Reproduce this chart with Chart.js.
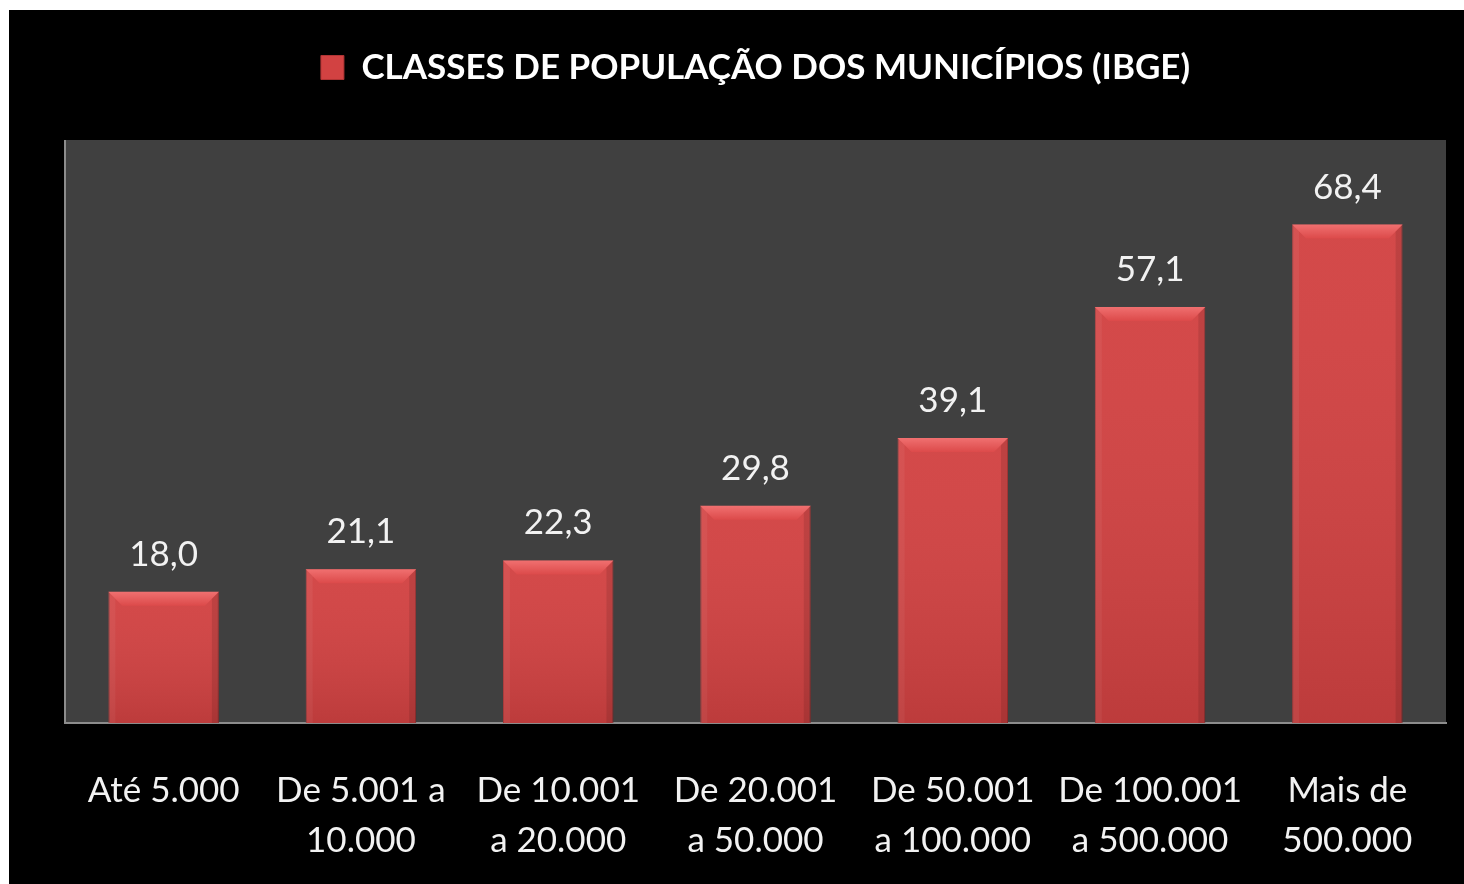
<!DOCTYPE html>
<html>
<head>
<meta charset="utf-8">
<script src="https://cdn.jsdelivr.net/npm/chart.js@4.4.1/dist/chart.umd.min.js"></script>
<style>
  body { margin: 0; background: #fff; }
  #wrap { position: absolute; left: 9px; top: 10px; width: 1455px; height: 874px; background: #000; }
</style>
</head>
<body>
<div id="wrap"><canvas id="chart"></canvas></div>
<script>
const seriesLabel = 'CLASSES DE POPULAÇÃO DOS MUNICÍPIOS (IBGE)';
const categories = [
  ['Até 5.000'],
  ['De 5.001 a', '10.000'],
  ['De 10.001', 'a 20.000'],
  ['De 20.001', 'a 50.000'],
  ['De 50.001', 'a 100.000'],
  ['De 100.001', 'a 500.000'],
  ['Mais de', '500.000']
];
const values = [18.0, 21.1, 22.3, 29.8, 39.1, 57.1, 68.4];
const yMin = 0;
const yMax = 80;

const FONT = 'Lato, "Open Sans", sans-serif';

// gray plot area + left axis line
const plotBackground = {
  id: 'plotBackground',
  beforeDraw(chart) {
    const { ctx, chartArea: a } = chart;
    ctx.save();
    ctx.fillStyle = '#404040';
    ctx.fillRect(a.left, a.top, a.right - a.left, a.bottom - a.top);
    ctx.strokeStyle = '#8c8c8c';
    ctx.lineWidth = 2;
    ctx.beginPath();
    ctx.moveTo(a.left, a.top);
    ctx.lineTo(a.left, a.bottom);
    ctx.stroke();
    ctx.restore();
  }
};

// bevel on bars + value labels
const barDecor = {
  id: 'barDecor',
  afterDatasetsDraw(chart) {
    const { ctx } = chart;
    const meta = chart.getDatasetMeta(0);
    ctx.save();
    meta.data.forEach((bar, i) => {
      const { x, y, width, base } = bar.getProps(['x', 'y', 'width', 'base'], true);
      const l = x - width / 2, r = x + width / 2, b = 14;
      // vertical shade
      const v = ctx.createLinearGradient(0, y, 0, base);
      v.addColorStop(0, 'rgba(255,255,255,0.04)');
      v.addColorStop(1, 'rgba(0,0,0,0.10)');
      ctx.fillStyle = v;
      ctx.fillRect(l, y, width, base - y);
      // top bevel
      const g = ctx.createLinearGradient(0, y, 0, y + b);
      g.addColorStop(0, '#f07070');
      g.addColorStop(1, '#dc4a4a');
      ctx.fillStyle = g;
      ctx.beginPath();
      ctx.moveTo(l, y); ctx.lineTo(r, y); ctx.lineTo(r - b, y + b); ctx.lineTo(l + b, y + b);
      ctx.closePath(); ctx.fill();
      // side shading
      ctx.fillStyle = 'rgba(0,0,0,0.10)';
      ctx.beginPath();
      ctx.moveTo(r, y); ctx.lineTo(r, base); ctx.lineTo(r - 7, base); ctx.lineTo(r - 7, y + 7);
      ctx.closePath(); ctx.fill();
      ctx.fillStyle = 'rgba(255,255,255,0.05)';
      ctx.beginPath();
      ctx.moveTo(l, y); ctx.lineTo(l, base); ctx.lineTo(l + 7, base); ctx.lineTo(l + 7, y + 7);
      ctx.closePath(); ctx.fill();

      ctx.fillStyle = '#f2f2f2';
      ctx.font = '35px ' + FONT;
      ctx.textAlign = 'center';
      ctx.textBaseline = 'alphabetic';
      ctx.fillText(values[i].toFixed(1).replace('.', ','), x, y - 26);
    });
    ctx.restore();
  }
};

const ctx = document.getElementById('chart').getContext('2d');
new Chart(ctx, {
  type: 'bar',
  data: {
    labels: categories,
    datasets: [{
      label: seriesLabel,
      data: values,
      backgroundColor: '#d24242',
      borderColor: '#b03434',
      borderWidth: 1,
      categoryPercentage: 0.56,
      barPercentage: 1
    }]
  },
  options: {
    responsive: true,
    maintainAspectRatio: false,
    animation: false,
    layout: { padding: { top: 30, left: 56, right: 18, bottom: 0 } },
    scales: {
      x: {
        grid: { display: false, drawTicks: false },
        border: { display: true, color: '#8c8c8c', width: 2 },
        afterFit: (scale) => { scale.height = 161; },
        ticks: {
          color: '#f2f2f2',
          padding: 42,
          maxRotation: 0,
          autoSkip: false,
          font: { family: FONT, size: 35, lineHeight: 1.45 }
        }
      },
      y: {
        display: false,
        min: yMin,
        max: yMax
      }
    },
    plugins: {
      legend: {
        position: 'top',
        weight: 3000,
        labels: {
          color: '#ffffff',
          boxWidth: 23,
          boxHeight: 24,
          padding: 10,
          font: { family: FONT, size: 35, weight: 'bold' }
        }
      },
      // empty spacer below the legend
      title: {
        display: true,
        text: '',
        padding: 0,
        font: { size: 45, lineHeight: 1 }
      },
      tooltip: { enabled: false }
    }
  },
  plugins: [plotBackground, barDecor]
});
</script>
</body>
</html>
